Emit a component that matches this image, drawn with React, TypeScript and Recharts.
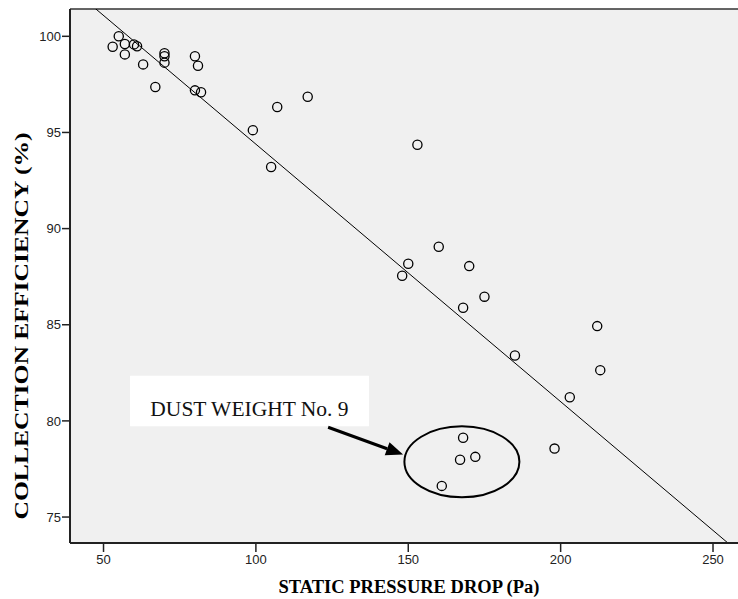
import {
  ScatterChart,
  Scatter,
  XAxis,
  YAxis,
  CartesianGrid,
  ReferenceLine,
  ReferenceDot,
  ReferenceArea,
} from "recharts";

// static pressure drop (Pa) and collection efficiency (%) per test
const pressureDrop = [
  53, 55, 57, 57, 60, 61, 63, 67, 70, 70, 70, 80, 81, 80, 82, 99, 107, 105,
  117, 153, 160, 150, 148, 170, 175, 168, 212, 185, 213, 203, 168, 167, 172,
  161, 198,
];
const efficiency = [
  99.46, 100.0, 99.6, 99.06, 99.58, 99.48, 98.54, 97.36, 99.12, 98.96, 98.63,
  98.96, 98.47, 97.19, 97.09, 95.12, 96.32, 93.2, 96.86, 94.36, 89.06, 88.17,
  87.55, 88.05, 86.46, 85.88, 84.93, 83.4, 82.64, 81.23, 79.12, 77.98, 78.13,
  76.62, 78.56,
];

const xTicks = [50, 100, 150, 200, 250];
const yTicks = [75, 80, 85, 90, 95, 100];
const xDomain = [39, 258.2];
const yDomain = [73.65, 101.42];

// linear fit line
const fitSlope = -0.1339;
const fitIntercept = 107.78;

// annotation: dust weight no. 9 group
const noteText = "DUST WEIGHT No. 9";
const noteBox = { x1: 58.7, x2: 137.1, y1: 79.72, y2: 82.35 };
const arrowFrom = { x: 123.7, y: 79.67 };
const arrowTo = { x: 148.3, y: 78.25 };
const groupCenter = { x: 167.6, y: 77.87 };

const data = pressureDrop.map((x, i) => ({ x, y: efficiency[i] }));
const fitSegment = xDomain.map((x) => ({ x, y: fitIntercept + fitSlope * x }));

const axisColor = "#222";
const tickStyle = { fill: "#222", fontSize: 13, fontFamily: "Liberation Sans, Arial, sans-serif" };
const titleFont = "Liberation Serif, 'Times New Roman', serif";

const OpenCircle = (props: any) => (
  <circle cx={props.cx} cy={props.cy} r={4.6} fill="none" stroke="#000" strokeWidth={1.3} />
);

const Arrow = (props: any) => {
  const { x1, y1, x2, y2 } = props;
  const ang = Math.atan2(y2 - y1, x2 - x1);
  const len = 17;
  const half = 7;
  const bx = x2 - len * Math.cos(ang);
  const by = y2 - len * Math.sin(ang);
  const px = -Math.sin(ang) * half;
  const py = Math.cos(ang) * half;
  return (
    <g>
      <line x1={x1} y1={y1} x2={bx} y2={by} stroke="#000" strokeWidth={3} />
      <polygon points={`${x2},${y2} ${bx + px},${by + py} ${bx - px},${by - py}`} fill="#000" />
    </g>
  );
};

export default function App() {
  return (
    <div style={{ position: "absolute", left: 0, top: 0, width: 738, height: 599, background: "#fff" }}>
      <ScatterChart width={738} height={599} margin={{ top: 9, right: 0, bottom: 0, left: 0 }}>
        <CartesianGrid horizontal={false} vertical={false} fill="#f0f0f0" />
        <XAxis
          type="number"
          dataKey="x"
          domain={xDomain}
          ticks={xTicks}
          allowDataOverflow
          height={56}
          tickSize={9}
          tickMargin={3}
          tick={tickStyle}
          axisLine={{ stroke: axisColor, strokeWidth: 2 }}
          tickLine={{ stroke: axisColor, strokeWidth: 1.5 }}
          label={(p: any) => {
            const vb = p.viewBox;
            return (
              <text
                x={vb.x + vb.width / 2 + 5}
                y={593}
                textAnchor="middle"
                fontFamily={titleFont}
                fontWeight="bold"
                fontSize={18.5}
                fill="#000"
              >
                STATIC PRESSURE DROP (Pa)
              </text>
            );
          }}
        />
        <YAxis
          type="number"
          dataKey="y"
          domain={yDomain}
          ticks={yTicks}
          allowDataOverflow
          width={70}
          tickSize={8}
          tickMargin={1}
          tick={tickStyle}
          axisLine={{ stroke: axisColor, strokeWidth: 2 }}
          tickLine={{ stroke: axisColor, strokeWidth: 1.5 }}
          label={() => {
            const cy = 326;
            return (
              <text
                x={28}
                y={cy}
                transform={`rotate(-90, 28, ${cy})`}
                textAnchor="middle"
                fontFamily={titleFont}
                fontWeight="bold"
                fontSize={18}
                textLength={387}
                lengthAdjust="spacingAndGlyphs"
                fill="#000"
              >
                COLLECTION EFFICIENCY (%)
              </text>
            );
          }}
        />
        <ReferenceLine y={yDomain[1]} stroke="#333" strokeWidth={1.5} />
        <ReferenceLine
          segment={fitSegment}
          stroke="#000"
          strokeWidth={1}
          ifOverflow="hidden"
        />
        <ReferenceArea
          x1={noteBox.x1}
          x2={noteBox.x2}
          y1={noteBox.y1}
          y2={noteBox.y2}
          fill="#fff"
          fillOpacity={1}
          stroke="none"
          label={(p: any) => {
            const vb = p.viewBox;
            return (
              <text
                x={vb.x + vb.width / 2}
                y={vb.y + 40}
                textAnchor="middle"
                fontFamily={titleFont}
                fontSize={21.5}
                fill="#111"
              >
                {noteText}
              </text>
            );
          }}
        />
        <ReferenceLine
          segment={[arrowFrom, arrowTo]}
          shape={(p: any) => <Arrow {...p} />}
        />
        <ReferenceDot
          x={groupCenter.x}
          y={groupCenter.y}
          shape={(p: any) => (
            <ellipse cx={p.cx} cy={p.cy} rx={57.5} ry={35.5} fill="none" stroke="#000" strokeWidth={2} />
          )}
        />
        <Scatter data={data} shape={OpenCircle} isAnimationActive={false} />
      </ScatterChart>
    </div>
  );
}
